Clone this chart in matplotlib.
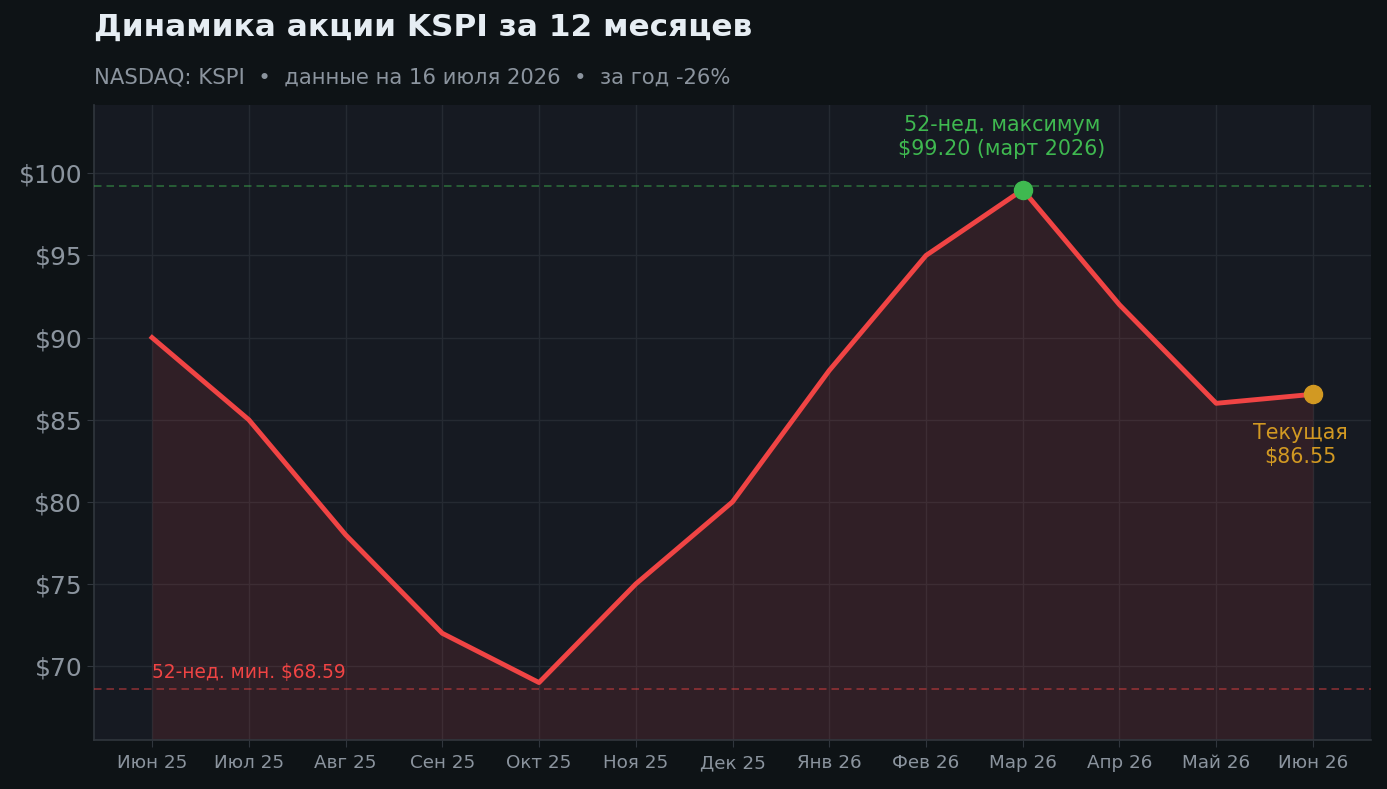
import numpy as np
import matplotlib
matplotlib.use("Agg")
import matplotlib.pyplot as plt

# data
months = ["Июн 25", "Июл 25", "Авг 25", "Сен 25", "Окт 25", "Ноя 25", "Дек 25",
          "Янв 26", "Фев 26", "Мар 26", "Апр 26", "Май 26", "Июн 26"]
prices = [90, 85, 78, 72, 69, 75, 80, 88, 95, 99, 92, 86, 86.55]
high_52w = 99.20
low_52w = 68.59
current = 86.55
yticks = [70, 75, 80, 85, 90, 95, 100]

bg = "#0e1316"
panel = "#161a22"
grid_c = "#252a32"
text_c = "#8b949e"
red = "#f04444"
green = "#3fb950"
gold = "#d29922"

plt.rcParams['font.family'] = ['DejaVu Sans']

fig = plt.figure(figsize=(13.87, 7.89), dpi=100, facecolor=bg)
ax = fig.add_axes([94 / 1387, 1 - 740 / 789, (1371 - 94) / 1387, (740 - 105) / 789])
ax.set_facecolor(panel)

x = np.arange(len(months))
ymin = low_52w * 0.955
ymax = high_52w * 1.05

# area under the price line
ax.fill_between(x, prices, ymin, color=red, alpha=0.12, lw=0, zorder=2)
ax.plot(x, prices, color=red, lw=3.5, zorder=4)

# 52-week high / low
ax.axhline(high_52w, color=green, lw=1.2, ls=(0, (4.5, 3)), alpha=0.5, zorder=3)
ax.axhline(low_52w, color=red, lw=1.2, ls=(0, (4.5, 3)), alpha=0.5, zorder=3)

imax = int(np.argmax(prices))
ax.plot(x[imax], prices[imax], 'o', color=green, ms=13, zorder=5)
ax.plot(x[-1], current, 'o', color=gold, ms=13, zorder=5)

ax.annotate(f"52-нед. максимум\n${high_52w:.2f} (март 2026)", (x[imax], prices[imax]),
            xytext=(-15, 22), textcoords='offset points', ha='center', va='bottom',
            color=green, fontsize=14.9, linespacing=1.25)
ax.annotate(f"Текущая\n${current:.2f}", (x[-1], current),
            xytext=(-9, -21), textcoords='offset points', ha='center', va='top',
            color=gold, fontsize=14.9, linespacing=1.25)
ax.annotate(f"52-нед. мин. ${low_52w:.2f}", (0, low_52w),
            xytext=(0, 5), textcoords='offset points', ha='left', va='bottom',
            color=red, fontsize=13.4)

ax.set_xlim(-0.6, 12.6)
ax.set_ylim(ymin, ymax)
ax.set_xticks(x)
ax.set_xticklabels(months)
ax.set_yticks(yticks)
ax.set_yticklabels([f"${v}" for v in yticks])
ax.tick_params(axis='x', colors=text_c, labelsize=13.2, length=5, color="#30363d", pad=5)
ax.tick_params(axis='y', colors=text_c, labelsize=18, length=5, color="#30363d")
ax.grid(True, color=grid_c, lw=1, zorder=1)
ax.set_axisbelow(True)
for s in ["top", "right"]:
    ax.spines[s].set_visible(False)
for s in ["left", "bottom"]:
    ax.spines[s].set_color("#30363d")
    ax.spines[s].set_linewidth(1.2)

fig.text(94 / 1387, 1 - 27 / 789, "Динамика акции KSPI за 12 месяцев", color="#e6edf3",
         fontsize=22.4, fontweight='bold', va='center', ha='left')
fig.text(94 / 1387, 1 - 77 / 789, "NASDAQ: KSPI  •  данные на 16 июля 2026  •  за год -26%",
         color=text_c, fontsize=15.2, va='center', ha='left')

fig.savefig("out.png", dpi=100, facecolor=bg)
